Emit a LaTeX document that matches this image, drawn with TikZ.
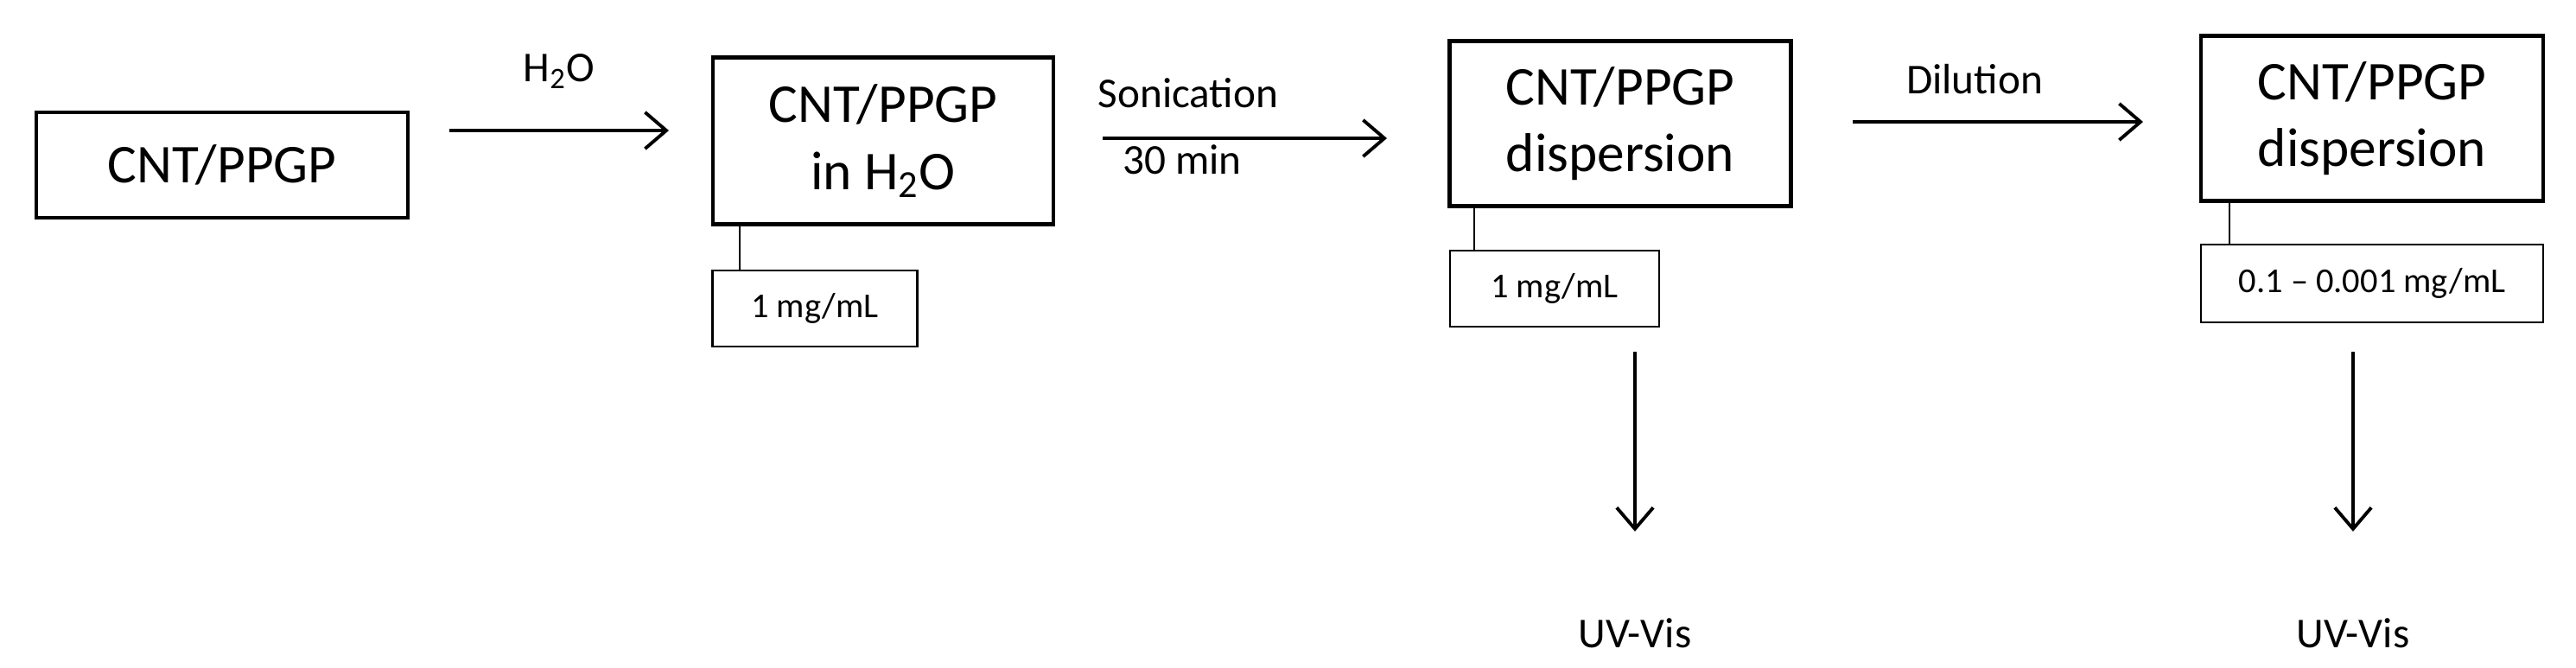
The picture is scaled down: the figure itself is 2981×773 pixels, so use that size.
\documentclass[tikz,border=0pt]{standalone}
\usepackage{fontspec}
\setmainfont{Carlito}
\usetikzlibrary{arrows.meta}
\begin{document}
\begin{tikzpicture}[x=0.01cm,y=-0.01cm,
 big/.style={draw,line width=1.3pt,font=\fontsize{18}{22}\selectfont,align=center,inner sep=0},
 small/.style={draw,line width=0.7pt,font=\fontsize{11.5}{13}\selectfont,inner sep=0},
 lab/.style={font=\fontsize{14}{16}\selectfont,align=center},
 arr/.style={line width=1.1pt,-{Straight Barb[length=7pt,width=12pt]}},
 tie/.style={line width=0.4pt}]
\useasboundingbox (0,0) rectangle (2981,773);
\node[big,minimum width=4.30cm,minimum height=1.22cm] (b1) at (257,191) {CNT/PPGP};
\node[big,minimum width=3.94cm,minimum height=1.93cm] (b2) at (1022,163) {CNT/PPGP\\in H\textsubscript{2}O};
\node[big,minimum width=3.95cm,minimum height=1.91cm] (b3) at (1875,143) {CNT/PPGP\\dispersion};
\node[big,minimum width=3.96cm,minimum height=1.91cm] (b4) at (2745,137) {CNT/PPGP\\dispersion};
\node[small,minimum width=2.37cm,minimum height=0.88cm] (s2) at (943,357) {1 mg/mL};
\node[small,minimum width=2.42cm,minimum height=0.88cm] (s3) at (1799,334) {1 mg/mL};
\node[small,minimum width=3.96cm,minimum height=0.90cm] (s4) at (2745,328) {0.1 – 0.001 mg/mL};
\draw[tie] (856,260) -- (856,313);
\draw[tie] (1706,239) -- (1706,290);
\draw[tie] (2580,233) -- (2580,283);
\coordinate (a1s) at (520,151); \coordinate (a1e) at (774,151);
\draw[arr] (a1s) -- (a1e) node[lab,midway,above=10pt] {H\textsubscript{2}O};
\coordinate (a2s) at (1276,160); \coordinate (a2e) at (1605,160);
\draw[arr] (a2s) -- (a2e);
\node[lab] (l2a) at (1375,108) {Sonication};
\node[lab] (l2b) at (1368,185) {30 min};
\coordinate (a3s) at (2144,141); \coordinate (a3e) at (2480,141);
\draw[arr] (a3s) -- (a3e);
\node[lab] (l3) at (2285,92) {Dilution};
\node[lab] (u3) at (1892,733) {UV-Vis};
\node[lab] (u4) at (2723,733) {UV-Vis};
\coordinate (d3) at (1892,407); \coordinate (d4) at (2723,407);
\draw[arr] (d3) -- (1892,615);
\draw[arr] (d4) -- (2723,615);
\end{tikzpicture}
\end{document}
